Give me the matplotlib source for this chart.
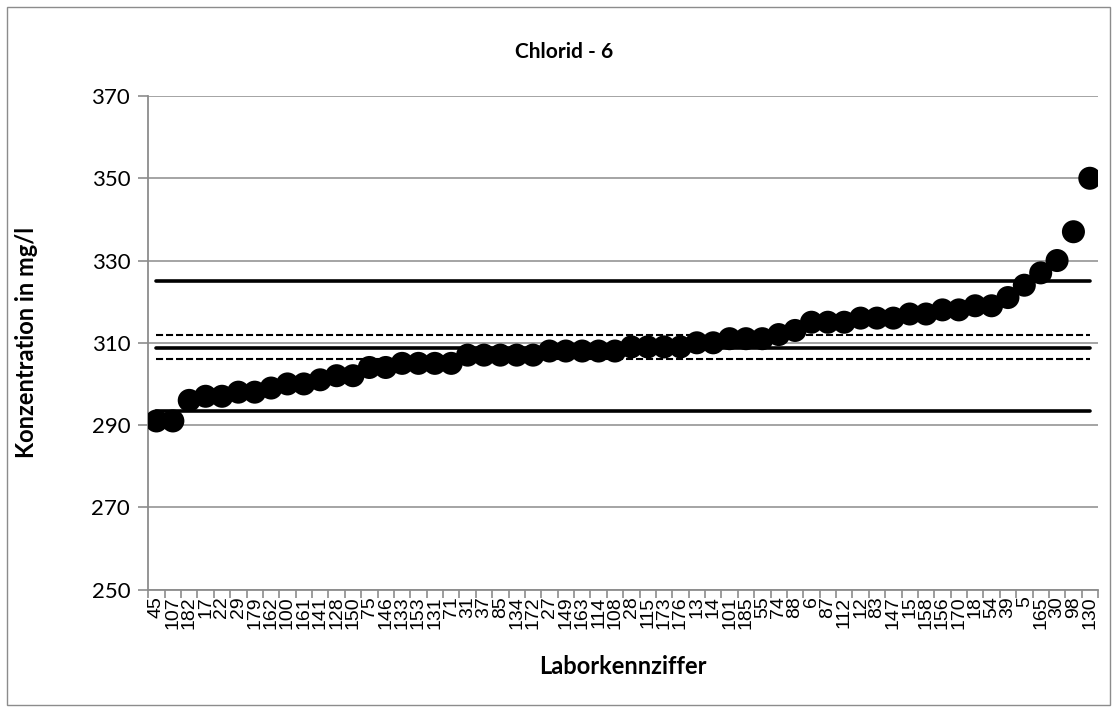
import matplotlib
matplotlib.use("Agg")
import matplotlib.pyplot as plt
import numpy as np
from matplotlib.patches import Rectangle

# Laboratory codes, sorted by reported value
labs = ["45", "107", "182", "17", "22", "29", "179", "162", "100", "161",
        "141", "128", "150", "75", "146", "133", "153", "131", "71", "31",
        "37", "85", "134", "172", "27", "149", "163", "114", "108", "28",
        "115", "173", "176", "13", "14", "101", "185", "55", "74", "88",
        "6", "87", "112", "12", "83", "147", "15", "158", "156", "170",
        "18", "54", "39", "5", "165", "30", "98", "130"]

# Chloride concentration in mg/l
values = [291, 291, 296, 297, 297, 298, 298, 299, 300, 300,
          301, 302, 302, 304, 304, 305, 305, 305, 305, 307,
          307, 307, 307, 307, 308, 308, 308, 308, 308, 309,
          309, 309, 309, 310, 310, 311, 311, 311, 312, 313,
          315, 315, 315, 316, 316, 316, 317, 317, 318, 318,
          319, 319, 321, 324, 327, 330, 337, 350]

# Assigned value, its uncertainty band and tolerance limits
mean_value = 308.85
uncert_upper = 311.8
uncert_lower = 306.0
tol_upper = 325.0
tol_lower = 293.3

yticks = [250, 270, 290, 310, 330, 350, 370]

W, H = 1117, 711
fig = plt.figure(figsize=(W / 100, H / 100), dpi=100)
fig.patch.set_facecolor("white")

# chart border
fig.patches.append(Rectangle((7 / W, 6 / H), 1103 / W, 698 / H,
                             transform=fig.transFigure, fill=False,
                             edgecolor="#8c8c8c", linewidth=1.0))

left, right, top, bottom = 148.3, 1098, 96, 589.6
ax = fig.add_axes([left / W, 1 - bottom / H, (right - left) / W, (bottom - top) / H])

n = len(labs)
x = np.arange(n)
grey = "#8c8c8c"

ax.set_xlim(-0.5, n - 0.5)
ax.set_ylim(250, 370)
ax.set_yticks(yticks)
ax.yaxis.grid(True, color=grey, linewidth=1.1)
ax.set_axisbelow(True)

# reference lines
ax.plot([x[0], x[-1]], [mean_value] * 2, color="black", lw=2.6,
        solid_capstyle="round", zorder=2)
for v in (tol_upper, tol_lower):
    ax.plot([x[0], x[-1]], [v, v], color="black", lw=2.6,
            solid_capstyle="round", zorder=2)
for v in (uncert_upper, uncert_lower):
    ax.plot([x[0], x[-1]], [v, v], color="black", lw=1.5,
            dashes=(3.4, 1.4), zorder=2)

ax.scatter(x, values, s=275, color="black", edgecolors="none", zorder=3)

for side in ("top", "right"):
    ax.spines[side].set_visible(False)
for side in ("left", "bottom"):
    ax.spines[side].set_color(grey)
    ax.spines[side].set_linewidth(1.3)

# labels centred on categories, tick marks between them
ax.set_xticks(x)
ax.set_xticklabels(labs, rotation=90, fontsize=14,
                   family="Liberation Sans", va="top")
ax.set_xticks(np.arange(-0.5, n, 1.0), minor=True)
ax.tick_params(axis="x", which="major", length=0, pad=5)
ax.tick_params(axis="x", which="minor", length=6, color=grey, width=1.2)
ax.tick_params(axis="y", length=7, color=grey, width=1.2, pad=6)
for lab in ax.get_yticklabels():
    lab.set_family("Lato")
    lab.set_fontsize(16)

fig.text(0.505, 1 - 52 / H, "Chlorid - 6", ha="center", va="center",
         family="Lato", fontweight="bold", fontsize=15)
fig.text((left + right) / 2 / W, 1 - 667 / H, "Laborkennziffer", ha="center",
         va="center", family="Lato", fontweight="bold", fontsize=17)
fig.text(27 / W, 1 - 342 / H, "Konzentration in mg/l", ha="center",
         va="center", rotation=90, family="Lato", fontweight="bold",
         fontsize=17)

fig.savefig("out.png", dpi=100, facecolor="white")
